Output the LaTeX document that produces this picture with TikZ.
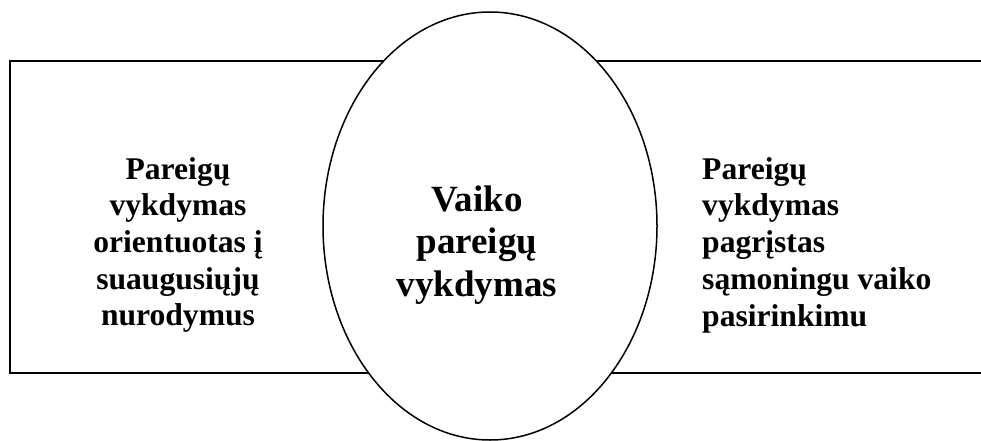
\documentclass[tikz,border=0pt]{standalone}
\usepackage{fontspec}
\setmainfont{Liberation Serif}
\usetikzlibrary{shapes.geometric}
\tikzset{
  box/.style={draw=black, line width=1.6pt, rectangle, inner sep=0pt, anchor=north west},
  oval/.style={draw=black, line width=1.5pt, ellipse, fill=white, inner sep=0pt},
  sidetext/.style={font=\bfseries\fontsize{31.6}{36.7}\selectfont, inner sep=0pt},
  midtext/.style={font=\bfseries\fontsize{37}{42.5}\selectfont, inner sep=0pt, align=center}
}
\begin{document}
\begin{tikzpicture}[x=1pt,y=-1pt]
\useasboundingbox (0,0) rectangle (981,441);
\node[box, minimum width=481pt, minimum height=312pt] (lbox) at (9,60) {};
\node[box, minimum width=520pt, minimum height=312pt] (rbox) at (490,60) {};
\node[oval, minimum width=334pt, minimum height=428pt] (ell) at (490,226) {};
\node[sidetext, align=center] (ltxt) at (178,245) {Pareigų\\vykdymas\\orientuotas į\\suaugusiųjų\\nurodymus};
\node[sidetext, align=left, anchor=west] (rtxt) at (702,245) {Pareigų\\vykdymas\\pagrįstas\\sąmoningu vaiko\\pasirinkimu};
\node[midtext] (mtxt) at (477,245) {Vaiko\\pareigų\\vykdymas};
\end{tikzpicture}
\end{document}
